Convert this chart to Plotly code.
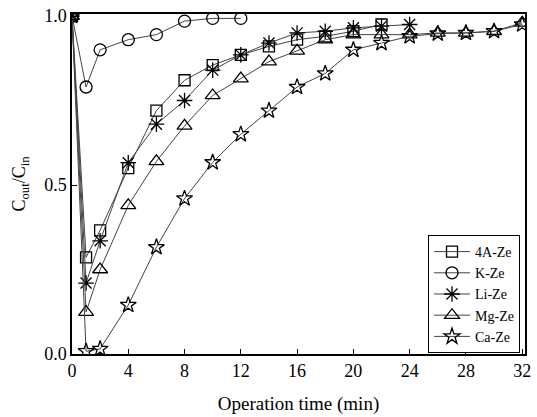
import plotly.graph_objects as go

t_4a = [0, 1, 2, 4, 6, 8, 10, 12, 14, 16, 18, 20, 22]
y_4a = [1.0, 0.286, 0.366, 0.55, 0.72, 0.81, 0.855, 0.885, 0.91, 0.93, 0.94, 0.955, 0.975]

t_k = [0, 1, 2, 4, 6, 8, 10, 12]
y_k = [1.0, 0.79, 0.90, 0.93, 0.945, 0.985, 0.993, 0.993]

t_li = [0, 1, 2, 4, 6, 8, 10, 12, 14, 16, 18, 20, 22, 24]
y_li = [1.0, 0.21, 0.335, 0.566, 0.68, 0.75, 0.84, 0.885, 0.92, 0.95, 0.955, 0.965, 0.97, 0.975]

t_mg = [0, 1, 2, 4, 6, 8, 10, 12, 14, 16, 18, 20, 22, 24, 26, 28, 30, 32]
y_mg = [1.0, 0.124, 0.25, 0.44, 0.57, 0.675, 0.765, 0.815, 0.865, 0.897, 0.93, 0.945, 0.945, 0.945, 0.95, 0.95, 0.955, 0.98]

t_ca = [0, 1, 2, 4, 6, 8, 10, 12, 14, 16, 18, 20, 22, 24, 26, 28, 30, 32]
y_ca = [1.0, 0.008, 0.015, 0.145, 0.316, 0.46, 0.567, 0.65, 0.72, 0.79, 0.83, 0.90, 0.92, 0.94, 0.948, 0.95, 0.955, 0.975]

series = [
    ("4A-Ze", t_4a, y_4a, "square-open", 11),
    ("K-Ze", t_k, y_k, "circle-open", 12),
    ("Li-Ze", t_li, y_li, "asterisk-open", 13),
    ("Mg-Ze", t_mg, y_mg, "triangle-up-open", 13),
    ("Ca-Ze", t_ca, y_ca, "star-open", 12),
]

fig = go.Figure()
for name, xs, ys, sym, sz in series:
    fig.add_trace(go.Scatter(
        x=xs, y=ys, name=name, mode="lines+markers",
        line=dict(color="#444444", width=1),
        marker=dict(symbol=sym, size=sz, color="black", line=dict(color="black", width=1.3)),
    ))

font = "Liberation Serif"
fig.update_layout(
    width=537, height=417,
    margin=dict(l=72, r=6, t=13, b=61),
    paper_bgcolor="white", plot_bgcolor="white",
    font=dict(family=font, size=18, color="black"),
    showlegend=True,
    legend=dict(x=0.989, y=0.35, xanchor="right", yanchor="top",
                bordercolor="black", borderwidth=1, bgcolor="white",
                font=dict(size=14), tracegroupgap=0, itemwidth=36),
)
fig.update_xaxes(
    range=[0, 32.2], tickvals=[0, 4, 8, 12, 16, 20, 24, 28, 32],
    ticks="inside", ticklen=5, tickcolor="black",
    tickfont=dict(size=18),
    showline=True, linecolor="black", linewidth=1.5, mirror=True,
    showgrid=False, zeroline=False,
    title=dict(text="Operation time (min)", standoff=16, font=dict(size=19)),
)
fig.update_yaxes(
    range=[0, 1.006], tickvals=[0, 0.5, 1.0], tickformat=".1f",
    ticks="inside", ticklen=5, tickcolor="black",
    tickfont=dict(size=18),
    showline=True, linecolor="black", linewidth=1.5, mirror=True,
    showgrid=False, zeroline=False,
    title=dict(text="C<sub>out</sub>/C<sub>in</sub>", standoff=14, font=dict(size=18)),
)
fig.write_html("out.html", config={"displayModeBar": False},
               post_script="document.body.style.margin='0';")
